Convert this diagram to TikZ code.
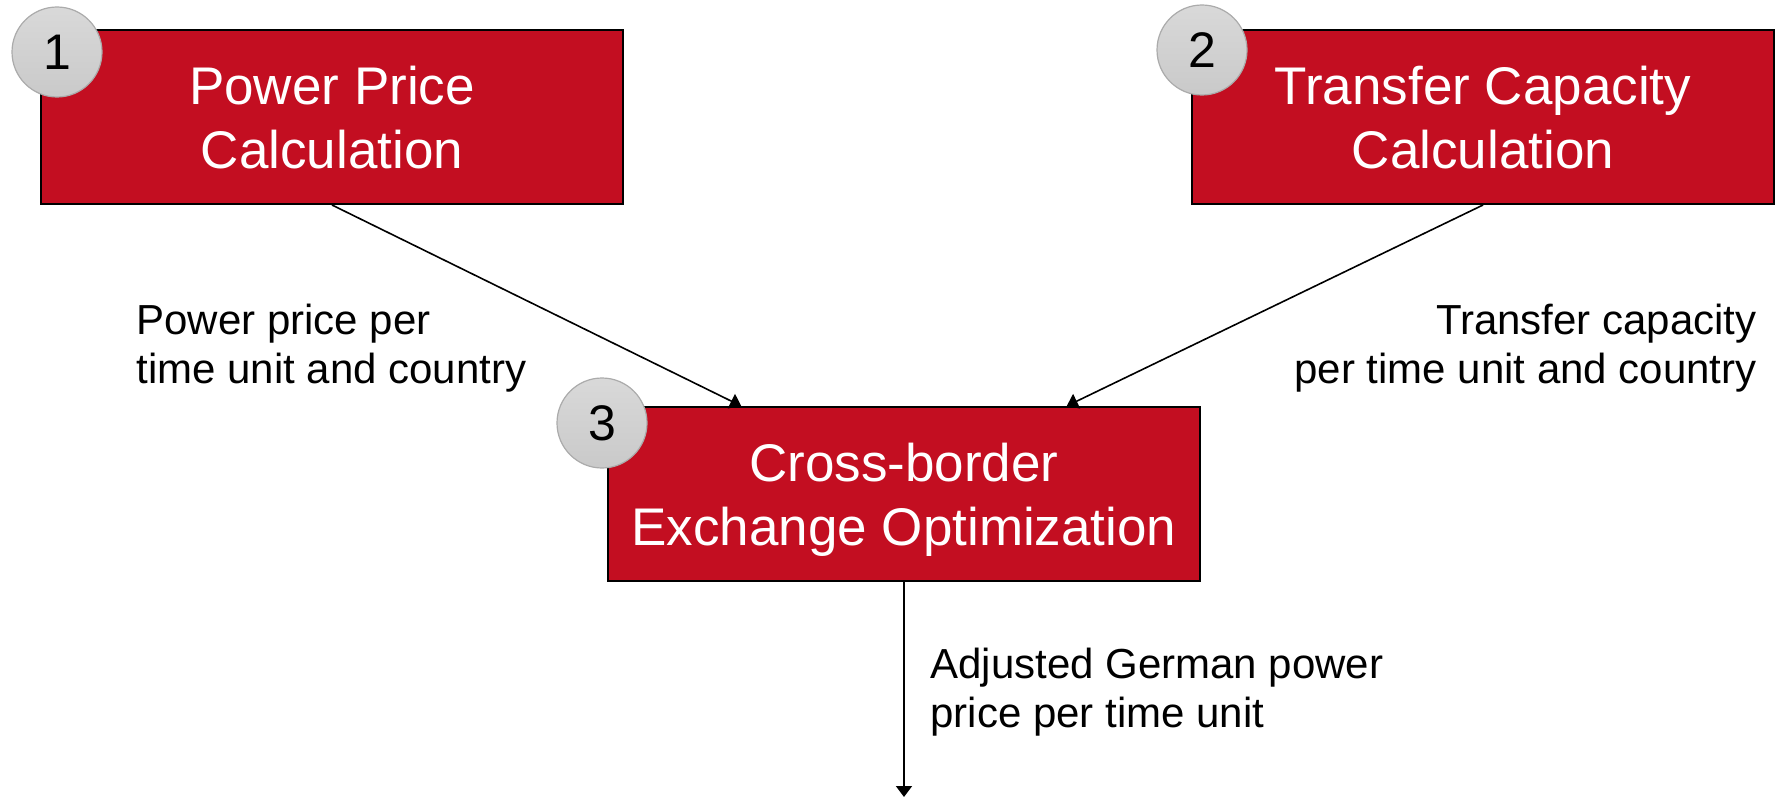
\documentclass[tikz,border=0pt]{standalone}
\usepackage{fontspec}
\setmainfont{Liberation Sans}
\usetikzlibrary{arrows.meta,calc}
\definecolor{boxred}{HTML}{C30E21}
\definecolor{ringgray}{HTML}{ABABAB}
\tikzset{
  stepbox/.style={draw=black, line width=1pt, fill=boxred, text=white,
    minimum width=#1, minimum height=87pt, inner sep=0pt, align=center,
    text depth=0pt, font=\fontsize{26.5}{32}\selectfont},
  stepbox/.default=291pt,
  badge/.style={circle, draw=ringgray, line width=0.6pt, minimum size=45pt, inner sep=0pt,
    top color=gray!30, bottom color=gray!42, font=\fontsize{25}{30}\selectfont},
  flow/.style={draw=black, line width=0.8pt, -{Triangle[length=5.5pt,width=8pt]}},
  lbl/.style={font=\fontsize{21}{24.5}\selectfont, inner sep=0pt},
}
\begin{document}
\begin{tikzpicture}[x=0.5pt,y=-0.5pt]
  \useasboundingbox (0,0) rectangle (1783,797);

  % process boxes
  \node[stepbox] (b1) at (332,117) {Power Price\\Calculation};
  \node[stepbox] (b2) at (1483,117) {Transfer Capacity\\Calculation};
  \node[stepbox=296pt] (b3) at (904,494) {Cross-border\\Exchange Optimization};

  % step numbers
  \node[badge] (n1) at (57,52) {1};
  \node[badge] (n2) at (1202,50) {2};
  \node[badge] (n3) at (602,423) {3};

  % connectors
  \coordinate (in1) at ($(b3.north west)!0.226!(b3.north east)$);
  \coordinate (in2) at ($(b3.north west)!0.774!(b3.north east)$);
  \coordinate (out) at (904,797);
  \draw[flow] (b1.south) -- (in1);
  \draw[flow] (b2.south) -- (in2);
  \draw[flow] (b3.south) -- (out);

  % flow labels
  \node[lbl, anchor=west, align=left] (l1) at (136,348) {Power price per\\time unit and country};
  \node[lbl, anchor=east, align=right] (l2) at (1757,348) {Transfer capacity\\per time unit and country};
  \node[lbl, anchor=west, align=left] (l3) at (930,692) {Adjusted German power\\price per time unit};
\end{tikzpicture}
\end{document}
